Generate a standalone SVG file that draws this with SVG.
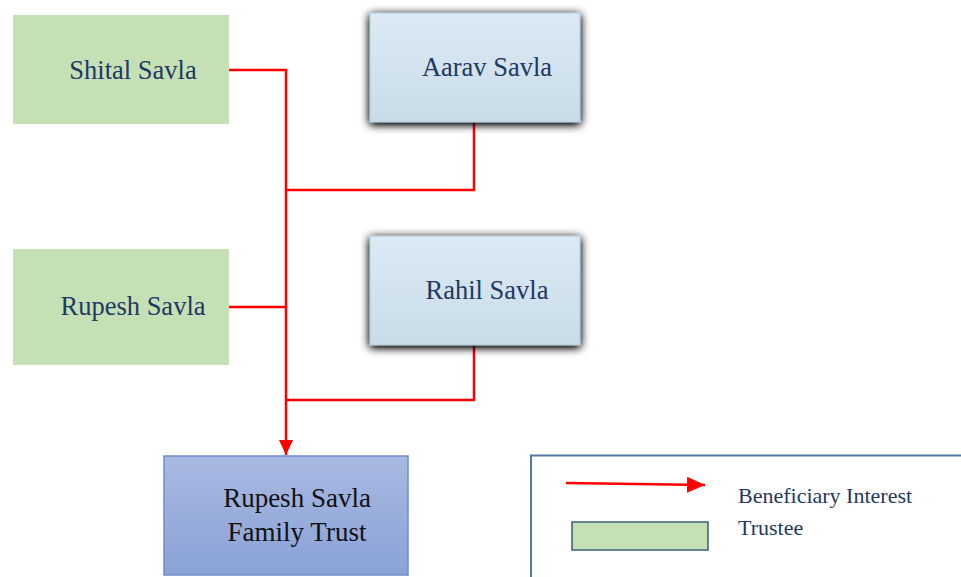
<svg xmlns="http://www.w3.org/2000/svg" width="961" height="577" viewBox="0 0 961 577">
<style>
.t{font-family:"Liberation Serif",serif;font-size:26.5px;fill:#1f3864;text-anchor:middle}
.k{font-family:"Liberation Serif",serif;font-size:27px;fill:#111;text-anchor:middle}
.lg{font-family:"Liberation Serif",serif;font-size:22px;fill:#1f3864}
.green{fill:#c5e0b4}
.blue{fill:url(#gb);stroke:#b0c4d4;stroke-width:1}
.ln{fill:none;stroke:#ff0000;stroke-width:2.5}
</style>
<defs>
<linearGradient id="gb" x1="0" y1="0" x2="0" y2="1"><stop offset="0" stop-color="#dbeaf5"/><stop offset="1" stop-color="#c9dce8"/></linearGradient>
<linearGradient id="gt" x1="0" y1="0" x2="0" y2="1"><stop offset="0" stop-color="#a9b9e2"/><stop offset="1" stop-color="#8aa2d6"/></linearGradient>
<filter id="sh" x="-20%" y="-25%" width="140%" height="155%"><feGaussianBlur in="SourceAlpha" stdDeviation="5"/><feOffset dx="0" dy="2"/><feComponentTransfer><feFuncA type="linear" slope="1.3"/></feComponentTransfer><feMerge><feMergeNode/><feMergeNode in="SourceGraphic"/></feMerge></filter>
<marker id="ah" markerWidth="16" markerHeight="16" refX="15" refY="7" orient="auto" markerUnits="userSpaceOnUse"><path d="M0,0 L15,7 L0,14 Z" fill="#ff0000"/></marker>
<marker id="ah2" markerWidth="20" markerHeight="20" refX="18" refY="8" orient="auto" markerUnits="userSpaceOnUse"><path d="M0,0 L18,8 L0,16 Z" fill="#ff0000"/></marker>
</defs>
<g id="connectors">
<path class="ln" d="M229,70 H286 V455" marker-end="url(#ah)"/>
<path class="ln" d="M474,122 V190 H286"/>
<path class="ln" d="M229,307 H286"/>
<path class="ln" d="M474,345 V400 H286"/>
</g>
<g id="shital"><rect class="green" x="13" y="15" width="216" height="109"/><text class="t" x="133" y="79">Shital Savla</text></g>
<g id="aarav"><rect class="blue" x="370" y="13" width="210" height="109" filter="url(#sh)"/><text class="t" x="487" y="76">Aarav Savla</text></g>
<g id="rupesh"><rect class="green" x="13" y="249" width="216" height="116"/><text class="t" x="133" y="315">Rupesh Savla</text></g>
<g id="rahil"><rect class="blue" x="370" y="236" width="210" height="109" filter="url(#sh)"/><text class="t" x="487" y="299">Rahil Savla</text></g>
<g id="trust"><rect x="164" y="456" width="244" height="119" fill="url(#gt)" stroke="#6d8ccf" stroke-width="1.5"/><text class="k" x="297" y="507">Rupesh Savla</text><text class="k" x="297" y="541">Family Trust</text></g>
<g id="legend">
<path d="M531,580 V455.5 H965" fill="none" stroke="#4f7aa8" stroke-width="2"/>
<line x1="566" y1="483" x2="705" y2="485" stroke="#ff0000" stroke-width="2.5" marker-end="url(#ah2)"/>
<text class="lg" x="738" y="503">Beneficiary Interest</text>
<rect x="572" y="522" width="136" height="28" fill="#c5e0b4" stroke="#3f5a7a" stroke-width="1.5"/>
<text class="lg" x="738" y="535">Trustee</text>
</g>
</svg>
